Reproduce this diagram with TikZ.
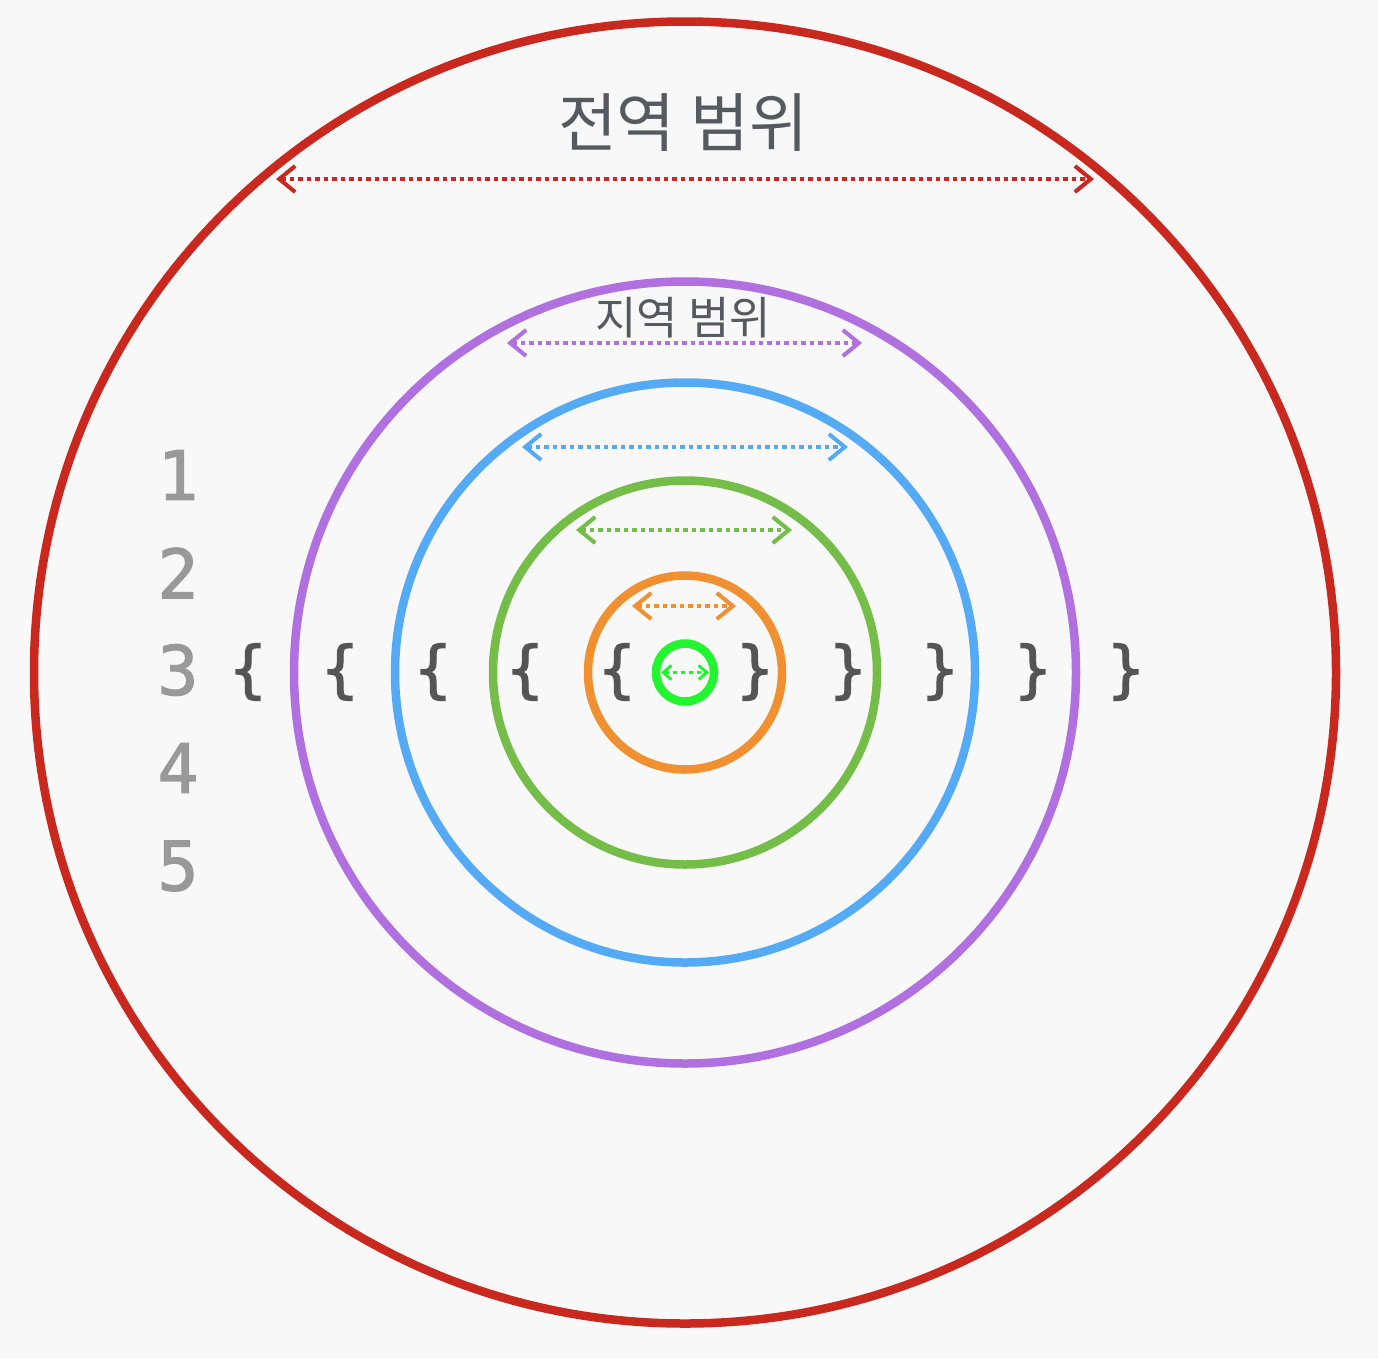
\documentclass[tikz,border=0pt]{standalone}
\usepackage{fontspec}
\newfontfamily\kr{Noto Sans CJK KR}
\newfontfamily\code[FakeBold=1.8]{DejaVu Sans Mono}
\usetikzlibrary{arrows.meta}
\definecolor{bg}{HTML}{F8F8F8}
\definecolor{cred}{HTML}{C8281E}
\definecolor{cpurple}{HTML}{B070E0}
\definecolor{cblue}{HTML}{55AAF5}
\definecolor{cgreen}{HTML}{74BD48}
\definecolor{corange}{HTML}{F09030}
\definecolor{clime}{HTML}{22F530}
\definecolor{ctext}{HTML}{555A60}
\definecolor{cnum}{HTML}{999999}
\definecolor{cbrace}{HTML}{555555}
\tikzset{
  ring/.style={draw=#1, line width=8.5pt},
  span/.style={draw=#1, line width=4pt, dash pattern=on 4.5pt off 4pt,
    {Straight Barb[length=16pt,width=26pt,line width=4pt]}-{Straight Barb[length=16pt,width=26pt,line width=4pt]}},
  smallspan/.style={draw=#1, line width=3.5pt, dash pattern=on 4pt off 4pt,
    {Straight Barb[length=8pt,width=14pt,line width=3pt]}-{Straight Barb[length=8pt,width=14pt,line width=3pt]}},
  lnum/.style={text=cnum, font=\code\fontsize{68}{72}\selectfont, inner sep=0pt, anchor=center},
  brace/.style={text=cbrace, font=\code\fontsize{62}{70}\selectfont, inner sep=0pt, anchor=center},
}
\begin{document}
\begin{tikzpicture}[x=1pt,y=-1pt]
\fill[bg] (0,0) rectangle (1378,1358);
\useasboundingbox (0,0) rectangle (1378,1358);
\coordinate (c) at (685,672.5);
% rings
\draw[ring=cred] (c) circle[radius=651];
\draw[ring=cpurple] (c) circle[radius=391];
\draw[ring=cblue] (c) circle[radius=290];
\draw[ring=cgreen] (c) circle[radius=192];
\draw[ring=corange] (c) circle[radius=97];
\draw[ring=clime] (c) circle[radius=29];
% titles
\node[text=ctext, font=\kr\fontsize{64}{72}\selectfont, inner sep=0pt] (global) at (683,123) {전역 범위};
\node[text=ctext, font=\kr\fontsize{45}{52}\selectfont, inner sep=0pt] (local) at (683,318) {지역 범위};
% spans
\coordinate (r1) at (276,179); \coordinate (r2) at (1094,179);
\draw[span=cred] (r1) -- (r2);
\coordinate (p1) at (507,343); \coordinate (p2) at (862,343);
\draw[span=cpurple] (p1) -- (p2);
\coordinate (b1) at (522,447); \coordinate (b2) at (848,447);
\draw[span=cblue] (b1) -- (b2);
\coordinate (g1) at (576,530); \coordinate (g2) at (792,530);
\draw[span=cgreen] (g1) -- (g2);
\coordinate (o1) at (632,606); \coordinate (o2) at (736,606);
\draw[span=corange] (o1) -- (o2);
\coordinate (l1) at (661,672.5); \coordinate (l2) at (709,672.5);
\draw[smallspan=clime] (l1) -- (l2);
% line numbers
\node[lnum] (n1) at (178,475) {1};
\node[lnum] (n2) at (178,573) {2};
\node[lnum] (n3) at (178,670) {3};
\node[lnum] (n4) at (178,768) {4};
\node[lnum] (n5) at (178,866) {5};
% braces
\foreach \x [count=\i] in {248,340,433,525,617} {
  \node[brace] (lb\i) at (\x,672) {\{};
}
\foreach \x [count=\i] in {755,848,940,1033,1126} {
  \node[brace] (rb\i) at (\x,672) {\}};
}
\end{tikzpicture}
\end{document}
